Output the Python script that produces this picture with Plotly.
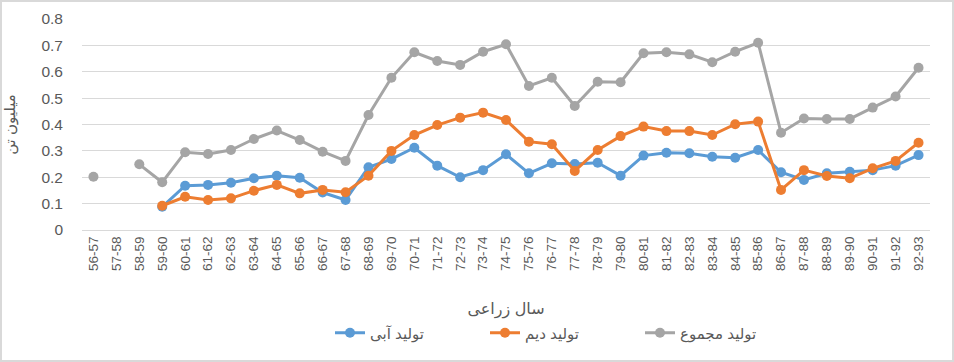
import plotly.graph_objects as go

categories = ["56-57","57-58","58-59","59-60","60-61","61-62","62-63","63-64","64-65","65-66",
              "66-67","67-68","68-69","69-70","70-71","71-72","72-73","73-74","74-75","75-76",
              "76-77","77-78","78-79","79-80","80-81","81-82","82-83","83-84","84-85","85-86",
              "86-87","87-88","88-89","89-90","90-91","91-92","92-93"]

irrigated = [None, None, None, 0.088, 0.168, 0.171, 0.179, 0.196, 0.206, 0.198,
             0.142, 0.114, 0.238, 0.269, 0.312, 0.244, 0.200, 0.227, 0.287, 0.215,
             0.253, 0.250, 0.255, 0.206, 0.282, 0.293, 0.291, 0.278, 0.274, 0.303,
             0.219, 0.190, 0.215, 0.221, 0.227, 0.244, 0.284]

rainfed = [None, None, None, 0.092, 0.126, 0.114, 0.120, 0.149, 0.171, 0.139,
           0.152, 0.143, 0.206, 0.300, 0.360, 0.398, 0.426, 0.445, 0.417, 0.335,
           0.325, 0.224, 0.303, 0.356, 0.392, 0.375, 0.375, 0.360, 0.401, 0.411,
           0.152, 0.227, 0.205, 0.196, 0.234, 0.262, 0.331]

total = [0.202, None, 0.249, 0.181, 0.295, 0.288, 0.303, 0.345, 0.377, 0.341,
         0.297, 0.262, 0.436, 0.577, 0.674, 0.641, 0.626, 0.676, 0.704, 0.546,
         0.577, 0.470, 0.562, 0.560, 0.670, 0.674, 0.666, 0.636, 0.676, 0.710,
         0.369, 0.423, 0.421, 0.421, 0.464, 0.506, 0.615]

series = [
    ("تولید آبی", irrigated, "#5B9BD5"),
    ("تولید دیم", rainfed, "#ED7D31"),
    ("تولید مجموع", total, "#A5A5A5"),
]

fig = go.Figure()
for name, vals, color in series:
    fig.add_trace(go.Scatter(
        x=categories, y=vals, name=name, mode="lines+markers",
        line=dict(color=color, width=3),
        marker=dict(color=color, size=10),
        connectgaps=False,
    ))

W, H = 954, 362
ml, mr, mt, mb = 82, 24, 19, 132
pw, ph = W - ml - mr, H - mt - mb

fig.update_layout(
    width=W, height=H,
    margin=dict(l=ml, r=mr, t=mt, b=mb, pad=0, autoexpand=False),
    paper_bgcolor="white", plot_bgcolor="white",
    font=dict(family="Liberation Sans, DejaVu Sans", color="#595959", size=14),
    showlegend=True,
    legend=dict(orientation="h", x=(330 - ml) / pw, xanchor="left",
                y=(ph - (333 - mt)) / ph, yanchor="middle",
                font=dict(size=15, color="#595959"), itemwidth=30,
                entrywidth=110, traceorder="normal"),
    xaxis=dict(
        type="category", range=[-0.5, len(categories) - 0.5],
        tickangle=-90, tickfont=dict(size=13.5, color="#595959"),
        showgrid=False, showline=True, linecolor="#D9D9D9", ticks="",
        title=dict(text="سال زراعی", font=dict(size=16, color="#595959"), standoff=32),
    ),
    yaxis=dict(
        range=[0, 0.8], dtick=0.1, showgrid=True, gridcolor="#D9D9D9", gridwidth=1,
        zeroline=False, showline=False, ticks="", tickfont=dict(size=15.5, color="#595959"),
        ticklabelstandoff=18,
        title=dict(text="میلیون تن", font=dict(size=15, color="#595959"), standoff=22),
    ),
    shapes=[dict(
        type="rect", xref="paper", yref="paper",
        x0=(1 - ml) / pw, x1=(W - 1 - ml) / pw,
        y0=-(mb - 1) / ph, y1=1 + (mt - 1) / ph,
        line=dict(color="#D9D9D9", width=2), fillcolor="rgba(0,0,0,0)", layer="below",
    )],
)

fig.write_html("out.html", config={"displayModeBar": False},
               post_script="document.body.style.margin='0';")
